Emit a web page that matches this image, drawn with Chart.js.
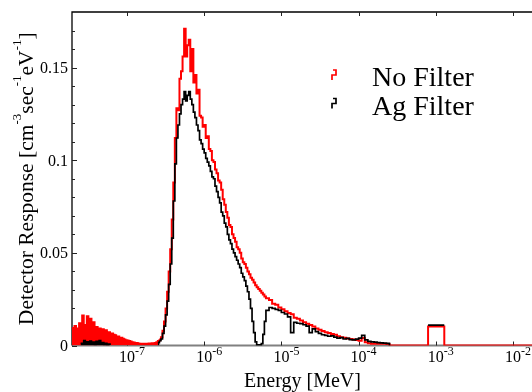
<!DOCTYPE html>
<html>
<head>
<meta charset="utf-8">
<script src="https://cdn.jsdelivr.net/npm/chart.js@4.4.1/dist/chart.umd.min.js"></script>
<style>
  html, body { margin: 0; padding: 0; background: #fff; overflow: hidden; }
  #wrap { width: 540px; height: 392px; }
</style>
</head>
<body>
<div id="wrap"><canvas id="spectrum" width="540" height="392"></canvas></div>
<script>
// lower bin edges, log10(E / MeV)
var logEnergy = [
    -7.72, -7.70, -7.68, -7.66, -7.64, -7.62, -7.60, -7.58, -7.56, -7.54,
    -7.52, -7.50, -7.48, -7.46, -7.44, -7.42, -7.40, -7.38, -7.36, -7.34,
    -7.32, -7.30, -7.28, -7.26, -7.24, -7.22, -7.20, -7.18, -7.16, -7.14,
    -7.12, -7.10, -7.08, -7.06, -7.04, -7.02, -7.00, -6.98, -6.96, -6.94,
    -6.92, -6.90, -6.88, -6.86, -6.84, -6.82, -6.80, -6.78, -6.76, -6.74,
    -6.72, -6.70, -6.68, -6.66, -6.64, -6.62, -6.60, -6.58,
    -6.56, -6.54, -6.52, -6.50, -6.48, -6.46, -6.44, -6.42, -6.40, -6.38,
    -6.36, -6.34, -6.32, -6.30, -6.28, -6.26, -6.24, -6.22, -6.20, -6.18,
    -6.16, -6.14, -6.12, -6.10, -6.08, -6.06, -6.04, -6.02, -6.00, -5.98,
    -5.96, -5.94, -5.92, -5.90, -5.88, -5.86, -5.84, -5.82, -5.80, -5.78,
    -5.76, -5.74, -5.72, -5.70, -5.68, -5.66, -5.64, -5.62, -5.60, -5.58,
    -5.56, -5.54, -5.52, -5.50, -5.48, -5.46, -5.44, -5.42, -5.40, -5.38,
    -5.36, -5.34, -5.32, -5.30, -5.28, -5.26, -5.24, -5.22,
    -5.20, -5.16, -5.12, -5.08, -5.04, -5.00, -4.96, -4.92, -4.88, -4.84,
    -4.80, -4.76, -4.72, -4.68, -4.64, -4.60, -4.56, -4.52, -4.48, -4.44,
    -4.40, -4.36, -4.32, -4.28, -4.24, -4.20, -4.16, -4.12, -4.08, -4.04,
    -4.00, -3.96, -3.92, -3.88, -3.84, -3.80, -3.76, -3.72, -3.68, -3.64,
    -3.60, -3.58, -3.10, -2.89, -1.70
];

// detector response, cm^-3 sec^-1 eV^-1
var noFilter = [
    0.0095, 0.0082, 0.0105, 0.0088, 0.0092, 0.0120, 0.0098, 0.0162, 0.0105, 0.0110,
    0.0158, 0.0100, 0.0145, 0.0105, 0.0126, 0.0095, 0.0100, 0.0088, 0.0092, 0.0082,
    0.0088, 0.0075, 0.0082, 0.0070, 0.0072, 0.0062, 0.0065, 0.0058, 0.0055, 0.0048,
    0.0048, 0.0042, 0.0042, 0.0036, 0.0032, 0.0028, 0.0027, 0.0024, 0.0022, 0.0018,
    0.0016, 0.0014, 0.0013, 0.0011, 0.0010, 0.0009, 0.0010, 0.0009, 0.0010, 0.0009,
    0.0011, 0.0010, 0.0012, 0.0012, 0.0014, 0.0018, 0.0024, 0.0034,
    0.0045, 0.0080, 0.0130, 0.0200, 0.0290, 0.0400, 0.0520, 0.0680, 0.0880, 0.1120,
    0.1280, 0.1270, 0.1440, 0.1480, 0.1560, 0.1710, 0.1560, 0.1620, 0.1650, 0.1480,
    0.1600, 0.1420, 0.1460, 0.1360, 0.1380, 0.1240, 0.1230, 0.1180, 0.1190, 0.1120,
    0.1130, 0.1060, 0.1050, 0.1000, 0.0990, 0.0950, 0.0930, 0.0890, 0.0880, 0.0840,
    0.0790, 0.0760, 0.0720, 0.0690, 0.0650, 0.0640, 0.0600, 0.0580, 0.0560, 0.0530,
    0.0520, 0.0500, 0.0470, 0.0450, 0.0440, 0.0420, 0.0400, 0.0385, 0.0365, 0.0355,
    0.0340, 0.0325, 0.0315, 0.0305, 0.0295, 0.0285, 0.0275, 0.0265,
    0.0255, 0.0245, 0.0225, 0.0220, 0.0205, 0.0195, 0.0185, 0.0175, 0.0168, 0.0150,
    0.0145, 0.0135, 0.0125, 0.0118, 0.0110, 0.0102, 0.0092, 0.0085, 0.0078, 0.0072,
    0.0068, 0.0062, 0.0058, 0.0050, 0.0045, 0.0042, 0.0038, 0.0035, 0.0032, 0.0030,
    0.0026, 0.0040, 0.0018, 0.0012, 0.0010, 0.0010, 0.0009, 0.0009, 0.0009, 0.0008,
    0, 0, 0.0103, 0, 0
];

var agFilter = [
    null, null, null, null, null, null, 0.0012, 0.0008, 0.0026, 0.0012,
    0.0020, 0.0008, 0.0024, 0.0010, 0.0018, 0.0006, 0.0022, 0.0012, 0.0026, 0.0008,
    0.0016, 0.0006, 0.0012, 0.0004, 0.0008, 0.0003, null, null, null, null,
    null, null, null, null, null, null, null, null, null, null,
    null, null, null, null, null, null, null, null, null, null,
    null, null, null, null, null, null, 0.0016, 0.0026,
    0.0035, 0.0065, 0.0105, 0.0165, 0.0240, 0.0330, 0.0440, 0.0580, 0.0780, 0.0980,
    0.1120, 0.1190, 0.1250, 0.1300, 0.1330, 0.1370, 0.1320, 0.1350, 0.1370, 0.1330,
    0.1300, 0.1260, 0.1230, 0.1190, 0.1160, 0.1110, 0.1090, 0.1060, 0.1040, 0.1010,
    0.0990, 0.0970, 0.0940, 0.0910, 0.0900, 0.0860, 0.0830, 0.0800, 0.0770, 0.0720,
    0.0700, 0.0660, 0.0640, 0.0600, 0.0570, 0.0550, 0.0520, 0.0500, 0.0480, 0.0460,
    0.0440, 0.0420, 0.0390, 0.0370, 0.0350, 0.0320, 0.0290, 0.0250, 0.0200, 0.0130,
    0.0070, 0.0020, 0.0003, 0.0003, 0.0003, 0.0010, 0.0060, 0.0130,
    0.0190, 0.0205, 0.0200, 0.0195, 0.0190, 0.0178, 0.0170, 0.0155, 0.0070, 0.0125,
    0.0120, 0.0118, 0.0112, 0.0105, 0.0070, 0.0090, 0.0075, 0.0065, 0.0058, 0.0055,
    0.0050, 0.0052, 0.0045, 0.0040, 0.0042, 0.0035, 0.0038, 0.0032, 0.0030, 0.0034,
    0.0040, 0.0055, 0.0030, 0.0022, 0.0020, 0.0018, 0.0015, 0.0014, 0.0013, 0.0012,
    0, null, 0.0110, 0.0110, null
];

var seriesNames = ['No Filter', 'Ag Filter'];
var seriesColors = ['#ff0000', '#000000'];
var xTickPowers = [-7, -6, -5, -4, -3, -2];
var yMajorTicks = [0, 0.05, 0.1, 0.15];
var yTickLabels = ['0', '0.05', '0.1', '0.15'];
var yMinorTicks = [0.01, 0.02, 0.03, 0.04, 0.06, 0.07, 0.08, 0.09,
                   0.11, 0.12, 0.13, 0.14, 0.16, 0.17];

// the noisy thermal part below this energy reads as a solid band
var solidBelow = 2.6e-7;

var serif = '"Liberation Serif", "Times New Roman", serif';

function toPoints(values) {
    var pts = [];
    for (var i = 0; i < logEnergy.length; i++) {
        pts.push({x: Math.pow(10, logEnergy[i]), y: values[i]});
    }
    return pts;
}

function lowFill(color) {
    return function(c) {
        return c.p0.parsed.x < solidBelow ? color : 'rgba(0,0,0,0)';
    };
}

// text runs with superscripts: [[text, isSup], ...]
function runsWidth(ctx, runs, size, supSize) {
    var w = 0;
    runs.forEach(function(r) {
        ctx.font = (r[1] ? supSize : size) + 'px ' + serif;
        w += ctx.measureText(r[0]).width;
    });
    return w;
}

function drawRuns(ctx, runs, x, y, size, supSize, rise) {
    runs.forEach(function(r) {
        ctx.font = (r[1] ? supSize : size) + 'px ' + serif;
        ctx.fillText(r[0], x, r[1] ? y - rise : y);
        x += ctx.measureText(r[0]).width;
    });
}

var frameAndLabels = {
    id: 'frameAndLabels',
    beforeDatasetsDraw: function(chart) {
        var ctx = chart.ctx, a = chart.chartArea;
        var xs = chart.scales.x, ys = chart.scales.y;
        ctx.save();
        // bottom axis
        ctx.strokeStyle = '#808080';
        ctx.lineWidth = 2;
        ctx.beginPath();
        ctx.moveTo(a.left, a.bottom);
        ctx.lineTo(a.right + 5, a.bottom);
        ctx.stroke();
        // left + top frame
        ctx.strokeStyle = '#000';
        ctx.lineWidth = 1.3;
        ctx.beginPath();
        ctx.moveTo(a.left, a.bottom);
        ctx.lineTo(a.left, a.top);
        ctx.lineTo(a.right + 5, a.top);
        ctx.stroke();
        // ticks, pointing inward
        ctx.lineWidth = 1;
        ctx.strokeStyle = '#222';
        ctx.beginPath();
        xTickPowers.forEach(function(p) {
            var x = Math.round(xs.getPixelForValue(Math.pow(10, p))) + 0.5;
            ctx.moveTo(x, a.bottom);
            ctx.lineTo(x, a.bottom - 4);
            ctx.moveTo(x, a.top);
            ctx.lineTo(x, a.top + 4);
        });
        yMajorTicks.forEach(function(v) {
            var y = Math.round(ys.getPixelForValue(v)) + 0.5;
            ctx.moveTo(a.left, y);
            ctx.lineTo(a.left + 5, y);
        });
        yMinorTicks.forEach(function(v) {
            var y = Math.round(ys.getPixelForValue(v)) + 0.5;
            ctx.moveTo(a.left, y);
            ctx.lineTo(a.left + 3, y);
        });
        ctx.stroke();
        ctx.restore();
    },
    afterDatasetsDraw: function(chart) {
        var ctx = chart.ctx, a = chart.chartArea;
        var xs = chart.scales.x, ys = chart.scales.y;
        ctx.save();
        ctx.fillStyle = '#000';
        ctx.textBaseline = 'alphabetic';

        // y tick labels
        ctx.textAlign = 'right';
        ctx.font = '16px ' + serif;
        yMajorTicks.forEach(function(v, i) {
            ctx.fillText(yTickLabels[i], a.left - 4, ys.getPixelForValue(v) + 5.5);
        });

        // x tick labels: 10 with exponent
        ctx.textAlign = 'left';
        xTickPowers.forEach(function(p) {
            var x = xs.getPixelForValue(Math.pow(10, p));
            ctx.font = '16px ' + serif;
            var w = ctx.measureText('10').width;
            drawRuns(ctx, [['10', 0], [String(p), 1]], x - w / 2, 362, 16, 12, 7);
        });

        // x title
        var xTitle = [['Energy [MeV]', 0]];
        var xw = runsWidth(ctx, xTitle, 20, 13);
        drawRuns(ctx, xTitle, (a.left + a.right) / 2 - xw / 2, 387, 20, 13, 8);

        // y title, rotated
        var yTitle = [['Detector Response [cm', 0], ['-3', 1], ['sec', 0], ['-1', 1],
                      ['eV', 0], ['-1', 1], [']', 0]];
        var yw = runsWidth(ctx, yTitle, 21.5, 13);
        ctx.translate(33, (a.top + a.bottom) / 2);
        ctx.rotate(-Math.PI / 2);
        drawRuns(ctx, yTitle, -yw / 2, 0, 21.5, 13, 12);
        ctx.setTransform(1, 0, 0, 1, 0, 0);

        // legend
        seriesNames.forEach(function(name, i) {
            var dy = i * 28.5;
            ctx.strokeStyle = seriesColors[i];
            ctx.lineWidth = 1.7;
            ctx.beginPath();
            ctx.moveTo(332, 80 + dy);
            ctx.lineTo(332, 75 + dy);
            ctx.lineTo(336, 75 + dy);
            ctx.lineTo(336, 70 + dy);
            ctx.lineTo(333, 70 + dy);
            ctx.stroke();
            ctx.font = '28px ' + serif;
            ctx.fillStyle = '#000';
            ctx.fillText(name, 372, 86 + dy);
        });
        ctx.restore();
    }
};

var chart = new Chart(document.getElementById('spectrum'), {
    type: 'line',
    data: {
        datasets: [
            {
                label: seriesNames[0],
                data: toPoints(noFilter),
                borderColor: seriesColors[0],
                backgroundColor: 'rgba(0,0,0,0)',
                borderWidth: 2,
                stepped: true,
                pointRadius: 0,
                fill: 'origin',
                segment: { backgroundColor: lowFill(seriesColors[0]) },
                order: 1
            },
            {
                label: seriesNames[1],
                data: toPoints(agFilter),
                borderColor: seriesColors[1],
                backgroundColor: 'rgba(0,0,0,0)',
                borderWidth: 1.7,
                stepped: true,
                pointRadius: 0,
                fill: 'origin',
                segment: { backgroundColor: lowFill(seriesColors[1]) },
                order: 0
            }
        ]
    },
    options: {
        responsive: false,
        animation: false,
        devicePixelRatio: 1,
        layout: { padding: { left: 72, right: 7, top: 12, bottom: 46.5 } },
        scales: {
            x: { type: 'logarithmic', display: false, min: Math.pow(10, -7.712), max: Math.pow(10, -1.741) },
            y: { type: 'linear', display: false, min: 0, max: 0.18 }
        },
        plugins: {
            legend: { display: false },
            tooltip: { enabled: false }
        }
    },
    plugins: [frameAndLabels]
});
</script>
</body>
</html>
